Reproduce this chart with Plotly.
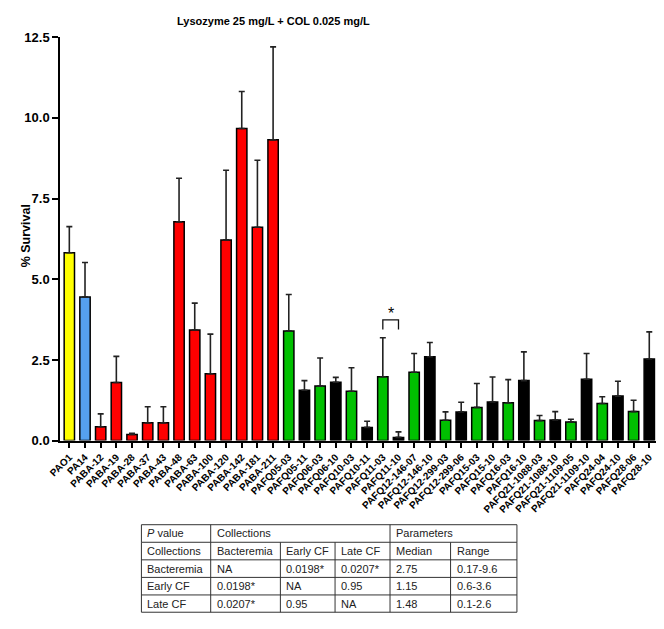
import plotly.graph_objects as go

# Page body adds an 8px margin; the figure is sized to fill the window exactly.
OFF = 8
W, H = 664 - 2 * OFF, 629 - 2 * OFF

strains = ["PAO1", "PA14", "PABA-12", "PABA-19", "PABA-28", "PABA-37", "PABA-43", "PABA-48",
           "PABA-63", "PABA-100", "PABA-120", "PABA-142", "PABA-181", "PABA-211",
           "PAFQ05-03", "PAFQ05-11", "PAFQ06-03", "PAFQ06-10", "PAFQ10-03", "PAFQ10-11",
           "PAFQ11-03", "PAFQ11-10", "PAFQ12-146-07", "PAFQ12-146-10", "PAFQ12-299-03",
           "PAFQ12-299-06", "PAFQ15-03", "PAFQ15-10", "PAFQ16-03", "PAFQ16-10",
           "PAFQ21-1088-03", "PAFQ21-1088-10", "PAFQ21-1109-05", "PAFQ21-1109-10",
           "PAFQ24-04", "PAFQ24-10", "PAFQ28-06", "PAFQ28-10"]
survival = [5.82, 4.45, 0.43, 1.80, 0.19, 0.55, 0.55, 6.78, 3.43, 2.07, 6.22, 9.67, 6.61, 9.32,
            3.40, 1.56, 1.69, 1.81, 1.53, 0.41, 1.98, 0.10, 2.12, 2.60, 0.63, 0.89, 1.03, 1.20,
            1.17, 1.86, 0.62, 0.64, 0.58, 1.90, 1.15, 1.38, 0.90, 2.53]
err_top = [6.63, 5.52, 0.83, 2.61, 0.23, 1.05, 1.05, 8.13, 4.26, 3.30, 8.38, 10.82, 8.69, 12.2,
           4.53, 1.86, 2.56, 1.96, 2.26, 0.60, 3.19, 0.27, 2.70, 3.04, 0.89, 1.19, 1.77, 1.97,
           1.89, 2.75, 0.78, 0.90, 0.66, 2.70, 1.36, 1.84, 1.25, 3.37]
groups = ["ref1", "ref2"] + ["bact"] * 12 + ["early", "late"] * 12
group_colors = {"ref1": "#ffff00", "ref2": "#55a0f0", "bact": "#ff0000",
                "early": "#00c000", "late": "#000000"}

sig_pair = ["PAFQ11-03", "PAFQ11-10"]
sig_low, sig_high = 3.44, 3.74

yticks = [0, 2.5, 5.0, 7.5, 10.0, 12.5]

table_head1 = ["<i>P</i> value", "Collections", "Parameters"]
table_head1_span = [1, 3, 2]
table_head2 = ["Collections", "Bacteremia", "Early CF", "Late CF", "Median", "Range"]
table_rows = [
    ["Bacteremia", "NA", "0.0198*", "0.0207*", "2.75", "0.17-9.6"],
    ["Early CF", "0.0198*", "NA", "0.95", "1.15", "0.6-3.6"],
    ["Late CF", "0.0207*", "0.95", "NA", "1.48", "0.1-2.6"],
]

# ---------- helpers: window pixel -> paper ----------
px = lambda v: (v - OFF) / W
py = lambda v: 1 - (v - OFF) / H

xs = list(range(len(strains)))
errs = [t - v for t, v in zip(err_top, survival)]
colors = [group_colors[g] for g in groups]

fig = go.Figure()
fig.add_trace(go.Bar(
    x=xs, y=survival, width=0.66,
    marker=dict(color=colors, line=dict(color="#000000", width=1.5)),
    error_y=dict(type="data", symmetric=False, array=errs, arrayminus=[0] * len(errs),
                 color="#222222", thickness=1.6, width=3),
    showlegend=False, hoverinfo="x+y",
))

i1, i2 = strains.index(sig_pair[0]), strains.index(sig_pair[1])
fig.add_trace(go.Scatter(
    x=[i1, i1, i2, i2], y=[sig_low, sig_high, sig_high, sig_low], mode="lines",
    line=dict(color="#111111", width=1.3), showlegend=False, hoverinfo="skip"))

font = "Liberation Sans, Arial, sans-serif"
ax_left, ax_right = 49, 656
y_bottom, y_top = 444.3, 30.8
unit_px = 15.97
x_lo = -0.58
x_hi = x_lo + (ax_right - ax_left) / unit_px

fig.update_layout(
    width=W, height=H, margin=dict(l=0, r=0, t=0, b=0),
    paper_bgcolor="white", plot_bgcolor="white",
    font=dict(family=font, color="#000000"),
    xaxis=dict(domain=[px(ax_left), px(ax_right)], range=[x_lo, x_hi],
               tickmode="array", tickvals=xs, ticktext=strains, tickangle=-45,
               tickfont=dict(size=10, family=font, weight="bold"),
               ticks="outside", ticklen=5, tickwidth=1.5, tickcolor="#000",
               showline=True, linecolor="#000", linewidth=2, showgrid=False, zeroline=False),
    yaxis=dict(domain=[py(y_bottom), py(y_top)], range=[0, 12.5],
               tickmode="array", tickvals=yticks, ticktext=[f"{v:.1f}" for v in yticks],
               tickfont=dict(size=13, family=font, weight="bold"),
               ticks="outside", ticklen=6, tickwidth=1.5, tickcolor="#000",
               showline=True, linecolor="#000", linewidth=2, showgrid=False, zeroline=False),
)

annotations = [
    dict(text="<b>Lysozyme 25 mg/L + COL 0.025 mg/L</b>", xref="paper", yref="paper",
         x=px(266), y=py(14.5), showarrow=False, xanchor="center", yanchor="middle",
         font=dict(size=11, family=font)),
    dict(text="<b>% Survival</b>", xref="paper", yref="paper", x=px(15), y=py(234),
         showarrow=False, textangle=-90, xanchor="center", yanchor="middle",
         font=dict(size=12.5, family=font)),
    dict(text="*", x=(i1 + i2) / 2, y=sig_high, xref="x", yref="y", showarrow=False,
         yanchor="bottom", yshift=-4, font=dict(size=16, family=font)),
]

# ---------- table ----------
col_px = [131.7, 202.3, 273.3, 329, 385, 446.7, 514.3]
row_px = [530.5, 548.5, 566.5, 584.5, 602.5, 620.2]
shapes = []
lc = dict(color="#333333", width=1)
for r in row_px:
    shapes.append(dict(type="line", xref="paper", yref="paper", x0=px(col_px[0]), x1=px(col_px[-1]),
                       y0=py(r), y1=py(r), line=lc))
bounds = [0]
for s in table_head1_span:
    bounds.append(bounds[-1] + s)
for b in bounds:
    shapes.append(dict(type="line", xref="paper", yref="paper", x0=px(col_px[b]), x1=px(col_px[b]),
                       y0=py(row_px[0]), y1=py(row_px[1]), line=lc))
for c in col_px:
    shapes.append(dict(type="line", xref="paper", yref="paper", x0=px(c), x1=px(c),
                       y0=py(row_px[1]), y1=py(row_px[-1]), line=lc))

tfont = dict(size=11, family=font, color="#222222")
def cell(text, ci, ri):
    annotations.append(dict(text=text, xref="paper", yref="paper", x=px(col_px[ci] + 4),
                            y=py((row_px[ri] + row_px[ri + 1]) / 2), xanchor="left",
                            yanchor="middle", showarrow=False, font=tfont))

for t, b in zip(table_head1, bounds[:-1]):
    cell(t, b, 0)
for ci, t in enumerate(table_head2):
    cell(t, ci, 1)
for ri, row in enumerate(table_rows):
    for ci, t in enumerate(row):
        cell(t, ci, ri + 2)

fig.update_layout(annotations=annotations, shapes=shapes)
fig.write_html("out.html")
